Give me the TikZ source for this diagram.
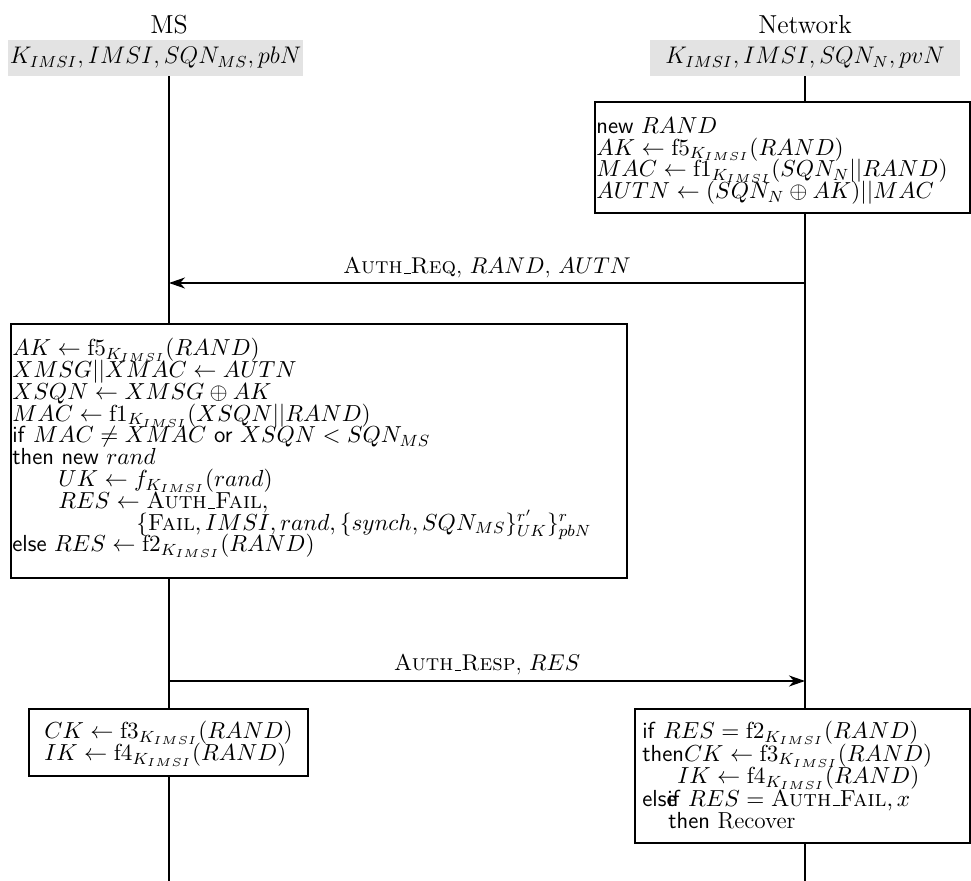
\RequirePackage{fix-cm}
\documentclass[tikz,border=0pt]{standalone}
\usetikzlibrary{arrows.meta,fit}
\newcommand{\usc}{\kern.06em\vbox{\hrule width.3em}}
\newcommand{\tightlines}{\lineskiplimit=-30pt\relax\lineskip=0pt\relax}
\begin{document}
\begin{tikzpicture}[x=0.5pt,y=-0.5pt,
  txt/.style={inner sep=0pt, font=\fontsize{11.6}{10.9}\selectfont\tightlines},
  head/.style={inner sep=0pt, font=\fontsize{13}{15}\selectfont},
  keytext/.style={inner sep=0pt, font=\fontsize{12}{14}\selectfont},
  keybox/.style={fill=gray!22, inner sep=0pt, draw=none},
  procbox/.style={draw, line width=1.1pt, inner sep=0pt},
  proctext/.style={txt, anchor=north west, align=left},
  life/.style={line width=1pt},
  msg/.style={line width=1pt, -{Stealth[length=8pt,width=5.5pt,inset=2.5pt]}},
  msglabel/.style={inner sep=0pt, anchor=base, font=\fontsize{11.4}{13}\selectfont}]
\useasboundingbox (0,0) rectangle (971,881);

% headers
\node[head] (mslabel) at (169,25) {MS};
\node[head] (netlabel) at (805,25) {Network};
\node[keybox, fit={(8,40)(303,76)}] (mskeys) {};
\node[keytext] (mskeytext) at (mskeys.center) {$K_{IMSI}, IMSI, SQN_{MS}, pbN$};
\node[keybox, fit={(650,40)(960,76)}] (netkeys) {};
\node[keytext] (netkeytext) at (netkeys.center) {$K_{IMSI}, IMSI, SQN_{N}, pvN$};

% network generation box
\node[procbox, fit={(595,102)(970,213)}] (netgen) {};
\node[proctext] (netgentext) at (596,117) {\textsf{new} $RAND$\\
$AK \leftarrow \mathrm{f5}_{K_{IMSI}}(RAND)$\\
$MAC \leftarrow \mathrm{f1}_{K_{IMSI}}(SQN_N||RAND)$\\
$AUTN \leftarrow (SQN_N \oplus AK)||MAC$};

% MS verification box
\node[procbox, fit={(11,324)(627,578)}] (msver) {};
\node[proctext] (msvertext) at (12,338) {$AK \leftarrow \mathrm{f5}_{K_{IMSI}}(RAND)$\\
$XMSG||XMAC \leftarrow AUTN$\\
$XSQN \leftarrow XMSG \oplus AK$\\
$MAC \leftarrow \mathrm{f1}_{K_{IMSI}}(XSQN||RAND)$\\
\textsf{if} $MAC \neq XMAC$ \textsf{or} $XSQN < SQN_{MS}$\\
\textsf{then new} $rand$\\
\hspace*{23pt}$UK \leftarrow f_{K_{IMSI}}(rand)$\\
\hspace*{23pt}$RES \leftarrow \textsc{Auth\usc Fail},$\\
\hspace*{62pt}$\{\textsc{Fail}, IMSI, rand, \{synch, SQN_{MS}\}^{r'}_{UK}\}^{r}_{pbN}$\\
\textsf{else} $RES \leftarrow \mathrm{f2}_{K_{IMSI}}(RAND)$};

% final boxes
\node[procbox, fit={(29,709)(308,776)}] (mskeysout) {};
\node[proctext] (mskeysouttext) at (44,721) {$CK \leftarrow \mathrm{f3}_{K_{IMSI}}(RAND)$\\
$IK \leftarrow \mathrm{f4}_{K_{IMSI}}(RAND)$};
\node[procbox, fit={(635,709)(970,843)}] (netcheck) {};
\node[proctext, font=\fontsize{11.6}{11.25}\selectfont\tightlines] (netchecktext) at (642,721) {\textsf{if} $RES = \mathrm{f2}_{K_{IMSI}}(RAND)$\\
\textsf{then}$CK \leftarrow \mathrm{f3}_{K_{IMSI}}(RAND)$\\
\hspace*{17.5pt}$IK \leftarrow \mathrm{f4}_{K_{IMSI}}(RAND)$\\
\textsf{else}\kern-0.4em\textsf{if} $RES = \textsc{Auth\usc Fail}, x$\\
\hspace*{13pt}\textsf{then} Recover};

% lifelines
\coordinate (msend) at (169,881);
\coordinate (netend) at (805,881);
\draw[life] (msend |- mskeys.south) -- (msend |- msver.north);
\draw[life] (msend |- msver.south) -- (msend |- mskeysout.north);
\draw[life] (msend |- mskeysout.south) -- (msend);
\draw[life] (netend |- netkeys.south) -- (netend |- netgen.north);
\draw[life] (netend |- netgen.south) -- (netend |- netcheck.north);
\draw[life] (netend |- netcheck.south) -- (netend);

% messages
\coordinate (reqnet) at (805,283);
\coordinate (reqms) at (169,283);
\draw[msg] (reqnet) -- (reqms);
\node[msglabel] (reqlabel) at (487,274) {\textsc{Auth\usc Req}, $RAND$,\ $AUTN$};
\coordinate (respms) at (169,681);
\coordinate (respnet) at (805,681);
\draw[msg] (respms) -- (respnet);
\node[msglabel] (resplabel) at (487,671) {\textsc{Auth\usc Resp}, $RES$};
\end{tikzpicture}
\end{document}
